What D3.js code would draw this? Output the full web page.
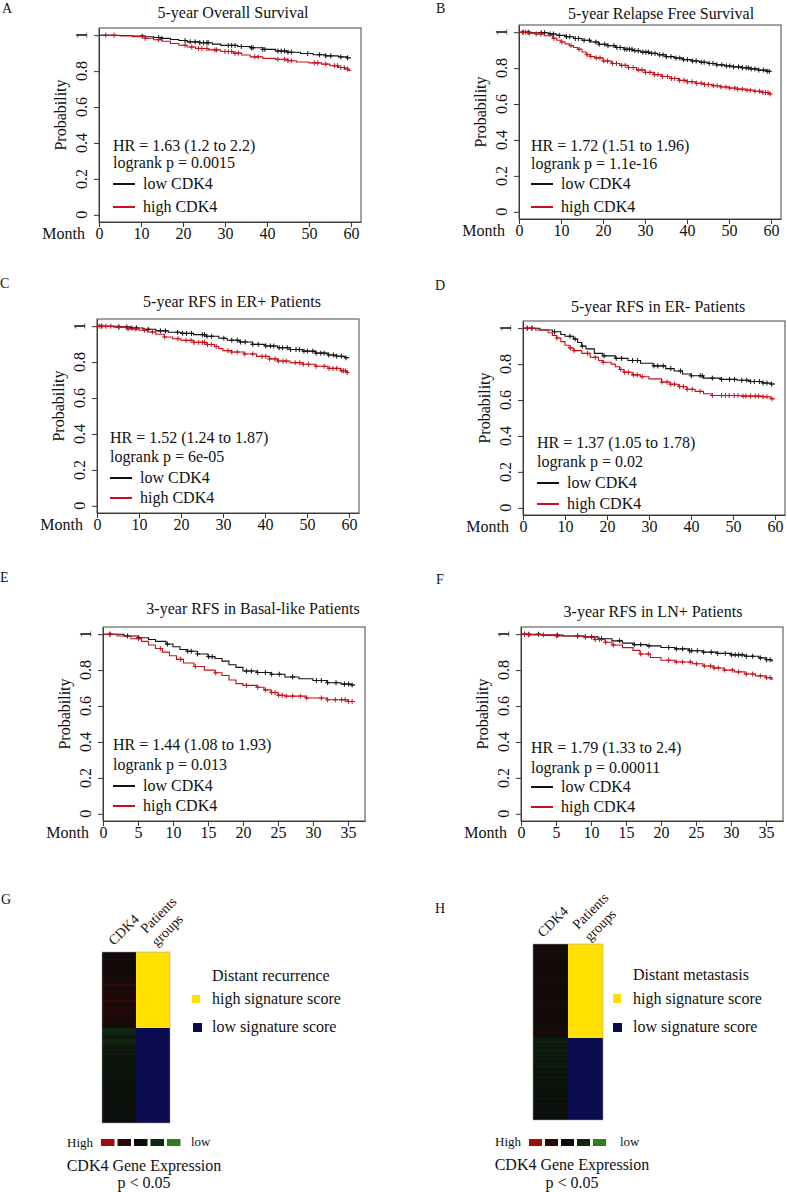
<!DOCTYPE html>
<html lang="en">
<head>
<meta charset="UTF-8" />
<title>CDK4 survival panels</title>
<script src="https://d3js.org/d3.v7.min.js"></script>
<style>
  body { margin: 0; background: #fff; }
  svg text { font-family: "Liberation Serif", "Times New Roman", serif; fill: #111; }
</style>
</head>
<body>
<svg width="787" height="1192"></svg>
<script>
// ---------- data ----------
const panelLetters = ["A", "B", "C", "D", "E", "F"];
const panelTitles = [
  "5-year Overall Survival",
  "5-year Relapse Free Survival",
  "5-year RFS in ER+ Patients",
  "5-year RFS in ER- Patients",
  "3-year RFS in Basal-like Patients",
  "3-year RFS in LN+ Patients"
];
const hrTexts = [
  "HR = 1.63 (1.2 to 2.2)",
  "HR = 1.72 (1.51 to 1.96)",
  "HR = 1.52 (1.24 to 1.87)",
  "HR = 1.37 (1.05 to 1.78)",
  "HR = 1.44 (1.08 to 1.93)",
  "HR = 1.79 (1.33 to 2.4)"
];
const pTexts = [
  "logrank p = 0.0015",
  "logrank p = 1.1e-16",
  "logrank p = 6e-05",
  "logrank p = 0.02",
  "logrank p = 0.013",
  "logrank p = 0.00011"
];
const legendLabels = ["low CDK4", "high CDK4"];
const yTicks = [0, 0.2, 0.4, 0.6, 0.8, 1];
const xTicks5y = [0, 10, 20, 30, 40, 50, 60];
const xTicks3y = [0, 5, 10, 15, 20, 25, 30, 35];
const followUp = [60, 60, 60, 60, 36, 36];

// step curves: [month, survival]
const aLow = [[0,1],[4,0.998],[8,0.995],[11,0.991],[13,0.987],[15,0.982],[17,0.976],[19,0.97],[21,0.963],[24,0.958],[27,0.95],[29,0.943],[33,0.937],[36,0.93],[39,0.921],[42,0.912],[45,0.905],[48,0.898],[51,0.891],[54,0.885],[57,0.879],[59,0.874]];
const aHigh = [[0,1],[5,0.996],[8,0.992],[11,0.983],[13,0.975],[15,0.966],[17,0.954],[19,0.944],[21,0.934],[23,0.926],[26,0.918],[29,0.909],[32,0.9],[34,0.89],[36,0.879],[39,0.871],[42,0.866],[45,0.858],[47,0.851],[50,0.846],[53,0.839],[55,0.83],[57,0.82],[58.5,0.812],[59.5,0.803]];
const aLowCens = [10.3,14.2,15,20.5,21.7,22.9,24,24.9,25.7,26,30.8,31.6,32.4,33.9,36.3,36.7,39,39.5,42.6,43.4,44.2,45,45.8,49.7,52.5,54,55.2,57.6,59.2];
const aHighCens = [1.6,3.6,11,14.2,20.5,22.1,23.7,24.5,25.7,27.6,28,30,30.8,31.6,32.4,33.2,37.1,37.9,42.6,44.2,45,45.8,51.3,52.1,54,56.1,56.8,57.6,58.4,59.2];

const bLow = [[0,1],[3,0.997],[7,0.99],[9,0.982],[11,0.975],[13,0.965],[15,0.955],[17,0.945],[19,0.933],[21,0.925],[23,0.915],[25,0.905],[27,0.897],[29,0.889],[31,0.882],[33,0.874],[35,0.864],[37,0.856],[39,0.847],[41,0.84],[43,0.833],[45,0.826],[47,0.818],[49,0.812],[51,0.807],[53,0.802],[55,0.796],[57,0.789],[59,0.782]];
const bHigh = [[0,1],[2,0.995],[4,0.99],[6,0.98],[8,0.966],[9,0.955],[10,0.945],[11,0.935],[12,0.925],[13,0.915],[14,0.905],[15,0.89],[16,0.875],[17,0.865],[18,0.857],[20,0.84],[22,0.826],[24,0.815],[26,0.803],[28,0.79],[30,0.776],[32,0.764],[34,0.753],[36,0.742],[38,0.732],[40,0.724],[42,0.716],[44,0.709],[46,0.702],[48,0.695],[50,0.689],[52,0.683],[54,0.677],[56,0.671],[58,0.664],[59.5,0.656]];
const bLowCens = [1,2.2,5.3,6.1,7.4,8.2,9.6,11.3,12.1,13.4,14.2,15.5,16.8,18.3,19.1,20.4,21.2,22.6,23.3,24.1,25.2,25.7,26.3,26.9,27.6,28.4,29.5,30.2,30.8,31.6,32.4,33.5,34.3,35.1,36.2,37.4,38.3,39.2,40.1,41.3,42.2,43.4,44.1,45.3,46.2,47.1,48.3,49.4,50.2,51.1,52.3,53.2,54.1,54.6,55.3,56.2,57.1,58.2,59.1,59.6];
const bHighCens = [0.8,1.6,2.5,4.1,5.2,8.3,10.2,12.4,14.3,16.2,17.1,18.4,19.3,20.2,21.1,22.3,23.2,24.4,25.3,26.1,27.2,28.4,29.3,30.1,31.2,32.3,33.1,34.2,35.4,36.3,37.1,38.2,39.3,40.1,41.2,42.3,43.4,44.2,45.1,46.3,47.2,48.1,49.3,50.2,51.4,52.1,53.2,54.3,55.1,56.2,57.3,58.1,58.7,59.3,59.8];

const cLow = [[0,1],[5,0.996],[8,0.99],[11,0.983],[14,0.974],[17,0.966],[20,0.96],[23,0.953],[26,0.944],[29,0.933],[31,0.922],[34,0.912],[37,0.899],[40,0.89],[43,0.88],[46,0.87],[49,0.861],[52,0.85],[55,0.84],[57,0.833],[59,0.824]];
const cHigh = [[0,1],[4,0.995],[7,0.985],[10,0.977],[12,0.968],[14,0.955],[16,0.94],[18,0.93],[20,0.921],[23,0.91],[26,0.898],[28,0.887],[29,0.875],[30,0.864],[32,0.856],[35,0.845],[38,0.832],[41,0.818],[43,0.806],[46,0.797],[49,0.788],[52,0.777],[55,0.765],[58,0.752],[59.5,0.742]];
const cLowCens = [1,5.2,7.1,8.3,9.4,12.2,15.1,16.3,19.2,20.4,21.3,22.5,25.1,25.6,26.2,27.3,30.2,32.1,33.4,34.2,35.3,37.1,38.4,40.2,41.3,42.1,43.4,44.2,45.3,46.1,47.4,48.2,49.3,50.1,51.4,52.2,53.3,54.1,55.2,56.3,57.1,58.2,59.3];
const cHighCens = [0.5,1.2,2.1,3.3,5.2,7.4,9.1,11.3,13.2,16.1,19.3,21.2,22.4,23.1,24.2,25.1,25.6,26.3,27.2,28.4,31.2,32.1,33.4,35.2,37.1,39.3,40.2,41.1,42.4,43.2,44.3,45.1,47.2,48.3,49.1,50.4,52.2,54.1,55.3,56.2,57.1,58.3,58.7,59.2,59.6];

const dLow = [[0,1],[4,0.99],[7,0.98],[9,0.965],[10,0.955],[12,0.94],[13,0.92],[14,0.9],[15,0.885],[17,0.86],[19,0.846],[22,0.832],[25,0.82],[28,0.805],[31,0.79],[34,0.775],[36,0.762],[38,0.745],[40,0.735],[43,0.722],[47,0.715],[51,0.71],[54,0.703],[57,0.695],[59,0.689]];
const dHigh = [[0,1],[3,0.99],[6,0.975],[7,0.96],[8,0.945],[9,0.925],[10,0.905],[11,0.89],[12,0.875],[14,0.86],[16,0.838],[18,0.82],[19,0.81],[21,0.8],[22,0.785],[23,0.77],[24,0.755],[26,0.74],[28,0.73],[30,0.718],[33,0.7],[35,0.688],[37,0.675],[39,0.66],[41,0.648],[43,0.635],[45,0.625],[52,0.622],[57,0.618],[59,0.607]];
const dLowCens = [1,2.1,7.5,11.2,12.4,14.1,19.3,22.2,23.5,26.1,27.3,31.2,32.1,33.4,35.2,37.5,40.1,42.2,42.7,45.1,47.3,49.2,50.4,52.1,53.3,54.2,55.1,56.3,57.2,58.1,59.2];
const dHighCens = [1,2.2,8.1,11.3,12.2,15.4,17.2,19.1,23.3,24.2,25.1,26.3,27.2,28.4,33.1,34.3,35.2,36.1,37.3,38.2,39.1,40.3,42.2,45.1,47.3,48.2,49.1,50.3,51.2,52.4,53.1,54.2,55.3,56.1,57.2,58.1,59.3];

const eLow = [[0,1],[3,0.99],[5,0.98],[6.5,0.97],[7.5,0.96],[9,0.945],[10,0.93],[11,0.915],[12,0.905],[13.5,0.89],[15,0.875],[16,0.865],[17,0.85],[18,0.83],[19,0.815],[20,0.795],[22,0.787],[24,0.777],[26,0.762],[28,0.752],[30,0.742],[32,0.73],[34,0.722],[35.5,0.717]];
const eHigh = [[0,1],[2,0.99],[4,0.975],[5.5,0.96],[6.5,0.94],[7.5,0.92],[8.5,0.9],[9.5,0.88],[10.5,0.86],[11.5,0.84],[13,0.82],[14.5,0.8],[16,0.785],[17,0.77],[18,0.745],[19,0.725],[20,0.715],[22,0.705],[23,0.69],[24,0.675],[25,0.66],[26,0.655],[29,0.645],[32,0.635],[35,0.625]];
const eLowCens = [1,3.5,5.1,9.2,12.1,12.6,13.5,15.1,15.6,20.5,21.2,22.1,23.2,24.1,25.2,27.1,30.5,31.2,32.1,33.3,34.5,35.1,35.6];
const eHighCens = [1,5.1,8.2,11.1,13.2,16.1,20.5,22.1,23.2,24.1,24.6,25.1,25.6,26.2,27.1,28.2,29.1,31.2,32.1,33.2,34.1,34.6,35.1,35.6];

const fLow = [[0,1],[3,0.995],[6,0.99],[9,0.985],[11,0.975],[13,0.963],[14.5,0.95],[16,0.942],[18,0.935],[20,0.926],[22,0.918],[24,0.908],[26,0.9],[28,0.893],[30,0.885],[32,0.877],[34,0.868],[35,0.858],[35.8,0.852]];
const fHigh = [[0,1],[1,0.996],[5,0.99],[9,0.985],[10.5,0.97],[12,0.955],[13,0.94],[14.5,0.925],[16,0.91],[17,0.89],[18.5,0.87],[20,0.855],[22,0.845],[24.5,0.835],[26,0.823],[27.5,0.812],[29,0.8],[30.5,0.79],[32,0.778],[33.5,0.768],[35,0.758],[35.8,0.75]];
const fLowCens = [0.5,1.1,2.5,5.2,8.1,9.2,10.1,11.5,14.1,16.2,17.1,18.3,21.1,22.2,23.1,24.1,24.4,25.2,26.1,27.2,28.1,29.2,30.1,30.6,31.1,31.6,32.2,33.1,34.2,35.1,35.6];
const fHighCens = [0.5,1.1,3.2,5.1,8.1,9.2,10.6,11.2,12.1,13.2,17.1,18.2,21.1,22.2,23.1,24.2,25.1,26.2,27.1,27.6,28.2,29.1,30.2,31.1,32.2,33.1,34.2,35.1,35.6];

// heatmap: CDK4 expression per patient row (+ red / - green), split by signature group
const gRecurrenceHigh = [0.1,0.15,0.08,0.2,0.12,0.18,0.1,0.25,0.15,0.12,0.2,0.1,0.18,0.22,0.15,0.3,0.6,0.25,0.2,0.35,0.3,0.25,0.4,0.3,0.65,0.35,0.3,0.45,0.55,0.3,0.35,0.4,0.3,0.25,0.35,0.3,0.2,0.25];
const gRecurrenceLow = [-0.55,-0.6,-0.45,-0.3,-0.2,-0.3,-0.45,-0.55,-0.4,-0.3,-0.2,-0.25,-0.15,-0.3,-0.2,-0.15,-0.22,-0.1,-0.15,-0.2,-0.1,-0.12,-0.18,-0.1,-0.2,-0.08,-0.1,-0.15,-0.1,-0.12,-0.08,-0.1,-0.15,-0.1,-0.05,-0.1,-0.12,-0.08,-0.1,-0.05,-0.1,-0.08,-0.05,-0.1,-0.06,-0.08,-0.05,-0.04];
const hMetastasisHigh = [0.15,0.25,0.1,0.2,0.3,0.15,0.1,0.2,0.12,0.25,0.1,0.08,0.15,0.2,0.1,0.12,0.08,0.3,0.1,0.15,0.12,0.1,0.2,0.08,0.1,0.15,0.25,0.1,0.12,0.08,0.1,0.3,0.15,0.1,0.12,0.2,0.1,0.08,0.15,0.1,0.25,0.12,0.1,0.2,0.15,0.1,0.3,0.2,0.15,0.1];
const hMetastasisLow = [-0.35,-0.3,-0.4,-0.25,-0.35,-0.2,-0.4,-0.3,-0.25,-0.35,-0.2,-0.3,-0.15,-0.25,-0.2,-0.3,-0.15,-0.1,-0.2,-0.12,-0.15,-0.25,-0.1,-0.15,-0.08,-0.2,-0.1,-0.12,-0.1,-0.15,-0.08,-0.1,-0.2,-0.1,-0.06,-0.12,-0.08,-0.1,-0.05,-0.12,-0.08,-0.06,-0.1,-0.05];
const keyValues = [1, 0.5, 0, -0.5, -1];
const heatTitles = ["Distant recurrence", "Distant metastasis"];
const groupLabels = ["high signature score", "low signature score"];

const curves = [
  [aLow, aHigh, aLowCens, aHighCens],
  [bLow, bHigh, bLowCens, bHighCens],
  [cLow, cHigh, cLowCens, cHighCens],
  [dLow, dHigh, dLowCens, dHighCens],
  [eLow, eHigh, eLowCens, eHighCens],
  [fLow, fHigh, fLowCens, fHighCens]
];

// ---------- layout ----------
const boxW = 262, boxH = 194;
const layout = [
  {left: 99,  top: 28,  letter: [2, 13],    title: [233, 18],  tx: 14, ty: [123, 140, 156, 179]},
  {left: 519, top: 25,  letter: [436, 13],  title: [661, 19],  tx: 12, ty: [126, 144, 159, 182]},
  {left: 97,  top: 319, letter: [0, 288],   title: [232, 307], tx: 13, ty: [124, 143, 159, 179]},
  {left: 523, top: 321, letter: [435, 290], title: [658, 312], tx: 14, ty: [127, 146, 162, 183]},
  {left: 103, top: 627, letter: [0, 582],   title: [253, 614], tx: 10, ty: [123, 143, 159, 179]},
  {left: 521, top: 627, letter: [436, 584], title: [653, 617], tx: 10, ty: [126, 146, 160, 180]}
];
const lowColor = "#111", highColor = "#c8101a";

const svg = d3.select("svg");

function survAt(steps, t) {
  let v = steps[0][1];
  steps.forEach(s => { if (s[0] <= t) v = s[1]; });
  return v;
}

layout.forEach((L, i) => {
  const maxT = followUp[i];
  const x = d3.scaleLinear().domain([0, maxT * 1.04]).range([L.left, L.left + boxW]);
  const y = d3.scaleLinear().domain([-0.04, 1.04]).range([L.top + boxH, L.top]);
  const bottom = L.top + boxH;

  svg.append("text").attr("x", L.letter[0]).attr("y", L.letter[1])
    .style("font-size", "14px").text(panelLetters[i]);
  svg.append("text").attr("x", L.title[0]).attr("y", L.title[1])
    .attr("text-anchor", "middle").style("font-size", "16px").text(panelTitles[i]);

  // x axis
  const xt = maxT === 60 ? xTicks5y : xTicks3y;
  const gx = svg.append("g").attr("transform", `translate(0,${bottom})`)
    .call(d3.axisBottom(x).tickValues(xt).tickSize(5).tickSizeOuter(0).tickPadding(1));
  gx.selectAll("text").style("font-family", '"Liberation Serif", serif')
    .style("font-size", "16px").attr("fill", "#111");
  gx.selectAll("line,path").attr("stroke", "#333");
  svg.append("text").attr("x", L.left - 14).attr("y", bottom + 17)
    .attr("text-anchor", "end").style("font-size", "16px").text("Month");

  // y axis
  const gy = svg.append("g").attr("transform", `translate(${L.left},0)`)
    .call(d3.axisLeft(y).tickValues(yTicks).tickSize(5).tickSizeOuter(0).tickFormat(""));
  gy.selectAll("line,path").attr("stroke", "#333");
  yTicks.forEach(v => {
    svg.append("text")
      .attr("transform", `translate(${L.left - 12},${y(v)}) rotate(-90)`)
      .attr("text-anchor", "middle").style("font-size", "16px").text(String(v));
  });
  svg.append("text")
    .attr("transform", `translate(${L.left - 33},${L.top + boxH / 2 - 10}) rotate(-90)`)
    .attr("text-anchor", "middle").style("font-size", "16px").text("Probability");

  // box
  svg.append("rect").attr("x", L.left).attr("y", L.top).attr("width", boxW).attr("height", boxH)
    .attr("fill", "none").attr("stroke", "#444").attr("stroke-width", 1);

  // curves
  const [low, high, lowC, highC] = curves[i];
  const line = d3.line().x(d => x(d[0])).y(d => y(d[1])).curve(d3.curveStepAfter);
  [[low, lowC, lowColor], [high, highC, highColor]].forEach(([steps, cens, col]) => {
    const pts = steps.concat([[maxT, steps[steps.length - 1][1]]]);
    svg.append("path").attr("d", line(pts)).attr("fill", "none")
      .attr("stroke", col).attr("stroke-width", 1.1);
    svg.append("g").selectAll("path").data(cens).join("path")
      .attr("d", t => {
        const cx = x(t), cy = y(survAt(steps, t));
        return `M${cx - 2.5},${cy}h5M${cx},${cy - 2.5}v5`;
      })
      .attr("stroke", col).attr("stroke-width", 1);
  });

  // annotations
  svg.append("text").attr("x", L.left + L.tx).attr("y", L.top + L.ty[0])
    .style("font-size", "16px").text(hrTexts[i]);
  svg.append("text").attr("x", L.left + L.tx).attr("y", L.top + L.ty[1])
    .style("font-size", "16px").text(pTexts[i]);
  [lowColor, highColor].forEach((col, k) => {
    const ly = L.top + L.ty[2 + k];
    svg.append("line").attr("x1", L.left + L.tx).attr("x2", L.left + L.tx + 22)
      .attr("y1", ly).attr("y2", ly).attr("stroke", col).attr("stroke-width", 2);
    svg.append("text").attr("x", L.left + L.tx + 30).attr("y", ly + 5)
      .style("font-size", "16px").text(legendLabels[k]);
  });
});

// ---------- heatmaps G and H ----------
const exprColor = d3.scaleLinear().domain([-1, -0.6, 0, 0.6, 1])
  .range(["#2e7d20", "#0f2c12", "#0b0b0b", "#2c0808", "#a00c0c"]);
const groupColor = ["#ffe000", "#0b0b4f"];

const heatLayout = [
  {letter: ["G", 1, 904], x: 102, y: 952, colW: 34, h: 171,
   cdk: [114, 946], pat: [146, 934], grp: [157, 947],
   legX: 212, legTitle: 981, sq: [[192, 995, 8, 8], [193, 1023, 9, 9]], legY: [1004, 1032],
   key: {x: 101, step: 16.5, w: 13.5, y: 1139, high: [67, 1147], low: [191, 1146], cx: 144, ty: [1171, 1188]}},
  {letter: ["H", 435, 913], x: 533, y: 944, colW: 35, h: 176,
   cdk: [543, 938], pat: [578, 930], grp: [590, 942],
   legX: 633, legTitle: 980, sq: [[613, 994, 8, 9], [613, 1023, 9, 9]], legY: [1004, 1032],
   key: {x: 529, step: 16, w: 13, y: 1139, high: [495, 1146], low: [620, 1146], cx: 572, ty: [1170, 1188]}}
];
const heatData = [[gRecurrenceHigh, gRecurrenceLow], [hMetastasisHigh, hMetastasisLow]];

heatLayout.forEach((H, i) => {
  const [hi, lo] = heatData[i];
  const rows = hi.concat(lo);
  const yRow = d3.scaleBand().domain(d3.range(rows.length)).range([H.y, H.y + H.h]);

  svg.append("text").attr("x", H.letter[1]).attr("y", H.letter[2])
    .style("font-size", "14px").text(H.letter[0]);

  svg.append("g").selectAll("rect").data(rows).join("rect")
    .attr("x", H.x).attr("width", H.colW)
    .attr("y", (d, k) => yRow(k)).attr("height", yRow.bandwidth() + 0.4)
    .attr("fill", d => exprColor(d)).attr("shape-rendering", "crispEdges");

  // group column
  [[0, hi.length], [hi.length, rows.length]].forEach(([a, b], k) => {
    svg.append("rect").attr("x", H.x + H.colW).attr("width", H.colW)
      .attr("y", yRow(a)).attr("height", (b === rows.length ? H.y + H.h : yRow(b)) - yRow(a))
      .attr("fill", groupColor[k]).attr("shape-rendering", "crispEdges");
  });
  svg.append("rect").attr("x", H.x).attr("y", H.y).attr("width", H.colW * 2).attr("height", H.h)
    .attr("fill", "none").attr("stroke", "#999").attr("stroke-width", 0.5);

  // rotated column labels
  svg.append("text").attr("transform", `translate(${H.cdk[0]},${H.cdk[1]}) rotate(-45)`)
    .style("font-size", "14px").text("CDK4");
  svg.append("text").attr("transform", `translate(${H.pat[0]},${H.pat[1]}) rotate(-45)`)
    .style("font-size", "14px").text("Patients");
  svg.append("text").attr("transform", `translate(${H.grp[0]},${H.grp[1]}) rotate(-45)`)
    .style("font-size", "14px").text("groups");

  // legend
  svg.append("text").attr("x", H.legX).attr("y", H.legTitle)
    .style("font-size", "16px").text(heatTitles[i]);
  H.sq.forEach((s, k) => {
    svg.append("rect").attr("x", s[0]).attr("y", s[1]).attr("width", s[2]).attr("height", s[3])
      .attr("fill", groupColor[k]);
    svg.append("text").attr("x", H.legX).attr("y", H.legY[k])
      .style("font-size", "16px").text(groupLabels[k]);
  });

  // colour key
  const K = H.key;
  svg.append("g").selectAll("rect").data(keyValues).join("rect")
    .attr("x", (d, k) => K.x + k * K.step).attr("y", K.y)
    .attr("width", K.w).attr("height", 7).attr("fill", d => exprColor(d));
  svg.append("text").attr("x", K.high[0]).attr("y", K.high[1])
    .style("font-size", "13px").text("High");
  svg.append("text").attr("x", K.low[0]).attr("y", K.low[1])
    .style("font-size", "13px").text("low");
  svg.append("text").attr("x", K.cx).attr("y", K.ty[0]).attr("text-anchor", "middle")
    .style("font-size", "16px").text("CDK4 Gene Expression");
  svg.append("text").attr("x", K.cx).attr("y", K.ty[1]).attr("text-anchor", "middle")
    .style("font-size", "16px").text("p < 0.05");
});
</script>
</body>
</html>
